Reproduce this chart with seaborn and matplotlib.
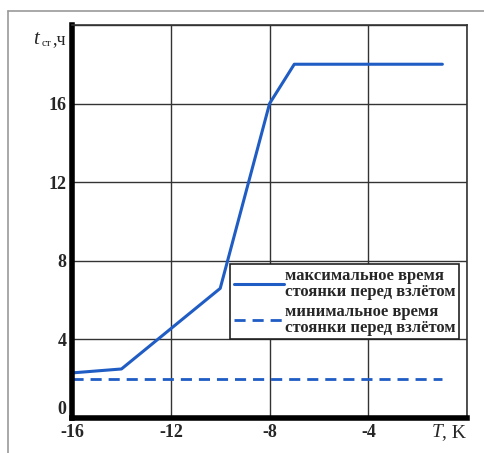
import matplotlib
matplotlib.use("Agg")
import matplotlib.pyplot as plt
import seaborn as sns
import pandas as pd
from matplotlib.lines import Line2D

# Data
t_max = [-16, -14, -10, -8, -7, -1]
v_max = [2.3, 2.5, 6.6, 16.0, 18.0, 18.0]
t_min = [-16, -1]
v_min = [2.0, 2.0]
x_ticks = [-16, -12, -8, -4]
y_ticks = [0, 4, 8, 12, 16]
label_max = "максимальное время\nстоянки перед взлётом"
label_min = "минимальное время\nстоянки перед взлётом"

sns.set_theme(style="white")
plt.rcParams['font.family'] = ['Liberation Serif', 'DejaVu Serif']

fig = plt.figure(figsize=(4.84, 4.53), dpi=100)
ax = fig.add_axes([0.149, 0.077, 0.816, 0.868])

df_max = pd.DataFrame({"T": t_max, "t": v_max})
df_min = pd.DataFrame({"T": t_min, "t": v_min})
color = "#1f5cc4"
sns.lineplot(data=df_max, x="T", y="t", ax=ax, color=color, lw=2.2)
sns.lineplot(data=df_min, x="T", y="t", ax=ax, color=color, lw=2.0, linestyle=(0, (4, 2.5)))

ax.set_xlim(-16, 0)
ax.set_ylim(0, 20)
ax.set_xticks(x_ticks + [0])
ax.set_yticks(y_ticks + [20])
ax.grid(True, color="#333333", lw=1.0)
ax.set_xticklabels([str(v) for v in x_ticks] + [""], fontsize=13, fontweight="bold")
ax.set_yticklabels([str(v) for v in y_ticks] + [""], fontsize=13, fontweight="bold")
ax.tick_params(axis="both", length=0, pad=4)
ax.set_xlabel("")
ax.set_ylabel("")
for lab in ax.get_yticklabels():
    if lab.get_text() == "0":
        lab.set_verticalalignment("bottom")

for s in ["left", "bottom"]:
    ax.spines[s].set_linewidth(4)
    ax.spines[s].set_color("black")
for s in ["top", "right"]:
    ax.spines[s].set_linewidth(1.2)
    ax.spines[s].set_color("#333333")

ax.text(-1.0, -0.3, "T", fontsize=14, style="italic", ha="right", va="top",
        transform=ax.transData)
ax.text(-1.0, -0.3, ", K", fontsize=14, ha="left", va="top", transform=ax.transData)
fig.text(0.068, 0.913, "t", fontsize=15, style="italic", ha="left", va="center")
fig.text(0.085, 0.903, "ст", fontsize=8, ha="left", va="center")
fig.text(0.108, 0.913, ",ч", fontsize=13, ha="left", va="center")

handles = [Line2D([], [], color=color, lw=2.2),
           Line2D([], [], color=color, lw=2.0, linestyle=(0, (4, 2.5)))]
leg = ax.legend(handles, [label_max, label_min], loc="lower right",
                bbox_to_anchor=(0.98, 0.2), fontsize=12, frameon=True,
                fancybox=False, edgecolor="#222222", framealpha=1,
                handlelength=3.0, handletextpad=0.1, borderpad=0.2,
                labelspacing=0.2, borderaxespad=0)
leg.get_frame().set_linewidth(1.2)
for t in leg.get_texts():
    t.set_fontweight("bold")
    t.set_linespacing(1.05)

fig.add_artist(Line2D([0.017, 0.017], [0, 0.975], transform=fig.transFigure,
                      color="#999999", lw=1.2))
fig.add_artist(Line2D([0.017, 1.0], [0.975, 0.975], transform=fig.transFigure,
                      color="#999999", lw=1.2))

fig.savefig("out.png", dpi=100)
